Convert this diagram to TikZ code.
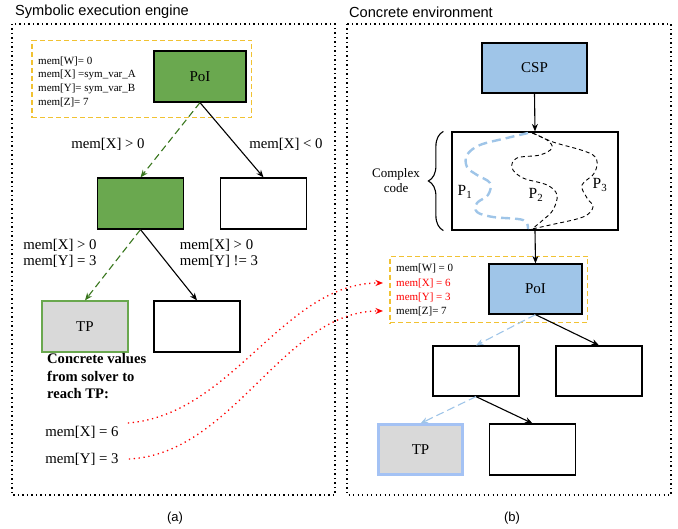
\documentclass[tikz,border=0pt]{standalone}
\usepackage{fontspec}
\setmainfont{Liberation Serif}
\setsansfont{Liberation Sans}
\usepackage{xcolor}
\definecolor{segreen}{RGB}{106, 168, 79}
\definecolor{segreendark}{RGB}{56, 118, 29}
\definecolor{seblue}{RGB}{159, 197, 232}
\definecolor{selightblue}{RGB}{164, 194, 244}
\definecolor{segray}{RGB}{217, 217, 217}
\definecolor{seyellow}{RGB}{241, 194, 50}
\definecolor{sered}{RGB}{255, 0, 0}
\usetikzlibrary{arrows.meta, positioning, calc, fit, decorations.pathreplacing}

\begin{document}
\begin{tikzpicture}[x=1pt, y=-1pt, >={Stealth[length=7.5pt, width=6pt]},
    box/.style={rectangle, draw=black, line width=1.2pt, minimum width=86pt, minimum height=51pt, inner sep=0pt, font=\fontsize{15}{17}\selectfont},
    frame/.style={draw=black, line width=1.2pt, dash pattern=on 1.2pt off 3.3pt},
    memframe/.style={draw=seyellow, line width=1.2pt, dash pattern=on 5pt off 3pt},
    edge/.style={->, line width=1.1pt},
    gedge/.style={->, line width=1.1pt, draw=segreendark, dash pattern=on 7pt off 4pt},
    bedge/.style={->, line width=1.1pt, draw=seblue, dash pattern=on 8pt off 4pt},
    redlink/.style={->, line width=1.3pt, draw=sered, dash pattern=on 1.3pt off 3.6pt},
    cond/.style={font=\fontsize{14.8}{16}\selectfont, inner sep=1pt},
    mem/.style={font=\fontsize{11}{13.7}\selectfont, inner sep=1pt, anchor=west, align=left},
    heading/.style={font=\sffamily\fontsize{14.6}{16}\selectfont, inner sep=0pt, anchor=west},
    plabel/.style={font=\fontsize{15.5}{17}\selectfont, inner sep=0pt}
]
\useasboundingbox (0,0) rectangle (678,529);

% === (a) Symbolic execution engine ===
\node[heading] (titleA) at (15,12) {Symbolic execution engine};
\draw[frame] (12,24) rectangle (335,495);

\node[box, fill=segreen, minimum width=92pt] (poiA) at (200,76.5) {PoI};
\node[mem] (memA) at (37,81.5) {mem[W]= 0\\mem[X] =sym\_var\_A\\mem[Y]= sym\_var\_B\\mem[Z]= 7};
\node[memframe, fit=(poiA)(memA), inner xsep=5pt, inner ysep=10pt] (memboxA) {};

\node[box, fill=segreen] (gA) at (140.5,203.5) {};
\node[box] (wA1) at (263.5,203.5) {};
\node[box, fill=segray, draw=segreen] (tpA) at (85,326.5) {TP};
\node[box] (wA2) at (197,326.5) {};

\draw[gedge] (poiA.south) -- (gA.north);
\draw[edge] (poiA.south) -- (wA1.north);
\draw[gedge] (gA.south) -- (tpA.north);
\draw[edge] (gA.south) -- (wA2.north);

\node[cond] (cA1) at (108,144) {mem[X] > 0};
\node[cond] (cA2) at (286,144) {mem[X] < 0};
\node[cond, align=center] (cA3) at (60,253) {mem[X] > 0\\mem[Y] = 3};
\node[cond, align=left] (cA4) at (219,253) {mem[X] > 0\\mem[Y] != 3};

\node[font=\bfseries\fontsize{14.6}{17.5}\selectfont, align=left, inner sep=0pt, anchor=west] (solver) at (47,376.5) {Concrete values\\from solver to\\reach TP:};
\node[cond] (valX) at (82,432) {mem[X] = 6};
\node[cond] (valY) at (82,459) {mem[Y] = 3};

\node[font=\sffamily\fontsize{13}{15}\selectfont] (capA) at (175,518) {(a)};

% === (b) Concrete environment ===
\node[heading] (titleB) at (349,12) {Concrete environment};
\draw[frame] (347,24) rectangle (671,495);

\node[box, fill=seblue, minimum width=105pt, minimum height=50pt] (csp) at (534.5,68) {CSP};
\node[box, minimum width=166pt, minimum height=98pt] (cx) at (535,181) {};
\node[box, fill=seblue, minimum width=93pt, minimum height=50pt] (poiB) at (535.5,289) {PoI};

\node[mem] (mW) at (395,268) {mem[W] = 0};
\node[mem, text=sered] (mX) at (395,283) {mem[X] = 6};
\node[mem, text=sered] (mY) at (395,297) {mem[Y] = 3};
\node[mem] (mZ) at (395,311) {mem[Z]= 7};
\node[memframe, fit=(poiB)(mW)(mZ), inner xsep=5pt, inner ysep=6pt] (memboxB) {};

\node[box, minimum height=50pt] (wB1) at (476,371) {};
\node[box, minimum height=50pt] (wB2) at (599,371) {};
\node[box, fill=segray, draw=selightblue, line width=2.2pt, minimum width=84pt, minimum height=50pt] (tpB) at (420.5,449.5) {TP};
\node[box] (wB3) at (532.5,449.5) {};

\draw[edge] (csp.south) -- (cx.north);
\draw[edge] (cx.south) -- (poiB.north);
\draw[bedge] (poiB.south) -- (wB1.north);
\draw[edge] (poiB.south) -- (wB2.north);
\draw[bedge] (wB1.south) -- (tpB.north);
\draw[edge] (wB1.south) -- (wB3.north);

% Caminos dentro del codigo complejo
\draw[seblue, line width=2.4pt, dash pattern=on 9pt off 5pt] plot[smooth, tension=0.6] coordinates {(528,133) (507,138) (480,145) (467,155) (467,167) (477,175) (490,183) (488,195) (477,203) (477,212) (493,217) (523,220) (528,229)};
\draw[black, line width=0.9pt, dash pattern=on 4pt off 3pt] plot[smooth, tension=0.6] coordinates {(532,133) (547,140) (552,148) (540,155) (517,158) (512,168) (523,178) (547,185) (557,195) (553,210) (543,220) (532,229)};
\draw[black, line width=0.9pt, dash pattern=on 4pt off 3pt] plot[smooth, tension=0.6] coordinates {(533,133) (553,142) (593,155) (595,172) (582,185) (587,198) (593,207) (583,217) (550,225) (532,229)};
\node[plabel] (p1) at (465,192) {P\textsubscript{1}};
\node[plabel] (p2) at (536,195) {P\textsubscript{2}};
\node[plabel] (p3) at (600,185) {P\textsubscript{3}};

\draw[line width=1.1pt, decorate, decoration={brace, amplitude=15pt}] ([xshift=-8pt]cx.south west) -- ([xshift=-8pt]cx.north west) node[midway, left=23pt, font=\fontsize{13}{15}\selectfont, align=center, inner sep=0pt] (cxlabel) {Complex\\code};

\node[font=\sffamily\fontsize{13}{15}\selectfont] (capB) at (512,518) {(b)};

% === Valores concretos hacia el entorno ===
\draw[redlink] ([xshift=8pt, yshift=9pt]valX.east) .. controls +(105,-8) and +(-100,0) .. ([xshift=-12pt]mX.west);
\draw[redlink] ([xshift=9pt]valY.east) .. controls +(105,-5) and +(-100,0) .. ([xshift=-12pt]mZ.west);

\end{tikzpicture}
\end{document}
